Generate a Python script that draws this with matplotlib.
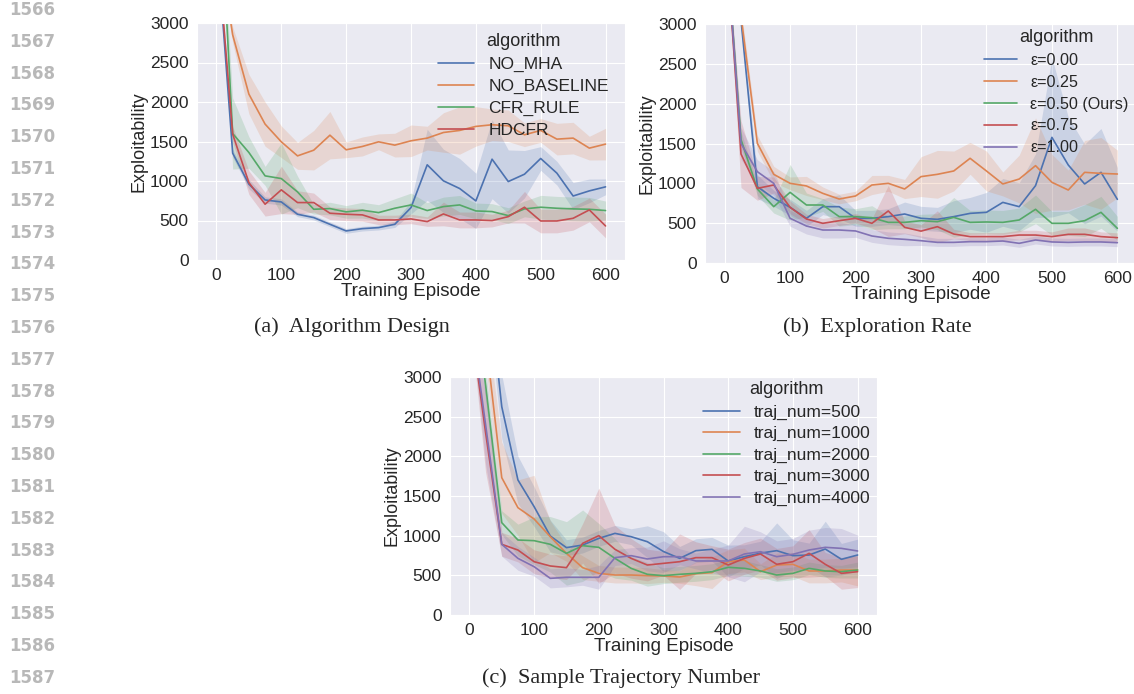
import matplotlib
matplotlib.use("Agg")
import matplotlib.pyplot as plt
import seaborn as sns

sns.set_style("darkgrid")
plt.rcParams["font.family"] = ["Liberation Sans", "DejaVu Sans"]

# training episodes (x values shared by all three panels)
episodes = list(range(0, 625, 25))

# (a) Algorithm Design: mean exploitability and half-width of the shaded band
no_mha = [4100, 1352, 960, 760, 735, 579, 537, 452, 368, 397, 410, 452, 663,
          1205, 1002, 905, 748, 1276, 993, 1086, 1285, 1099, 810, 875, 926]
no_mha_band = [0, 50, 60, 40, 40, 30, 30, 30, 30, 30, 30, 40, 80,
               450, 400, 380, 350, 500, 400, 300, 150, 150, 170, 150, 100]
no_baseline = [4200, 2850, 2100, 1720, 1496, 1318, 1390, 1580, 1395, 1437, 1496, 1454, 1509,
               1543, 1614, 1640, 1691, 1712, 1699, 1585, 1640, 1530, 1543, 1416, 1467]
no_baseline_band = [0, 100, 250, 280, 200, 170, 250, 300, 100, 120, 100, 150, 200,
                    150, 250, 300, 250, 200, 200, 150, 150, 200, 200, 150, 200]
cfr_rule = [5500, 1601, 1361, 1065, 1031, 862, 642, 651, 609, 630, 600, 655, 697,
            626, 676, 697, 621, 613, 562, 647, 668, 655, 647, 642, 626]
cfr_rule_band = [0, 450, 200, 120, 450, 200, 60, 80, 80, 100, 100, 120, 150,
                 100, 120, 120, 100, 100, 100, 100, 150, 150, 150, 150, 120]
hdcfr = [4100, 1593, 980, 706, 888, 727, 727, 592, 579, 571, 507, 507, 520,
         486, 583, 507, 507, 499, 549, 668, 494, 494, 528, 634, 431]
hdcfr_band = [0, 100, 150, 150, 300, 150, 120, 80, 80, 80, 60, 60, 60,
              60, 150, 100, 100, 80, 80, 200, 150, 150, 150, 150, 150]

# (b) Exploration Rate
eps_000 = [4500, 3050, 958, 812, 699, 561, 707, 707, 561, 561, 582, 615, 561,
           548, 582, 623, 636, 761, 707, 971, 1577, 1230, 992, 1138, 799]
eps_000_band = [0, 100, 150, 100, 100, 100, 100, 150, 100, 100, 100, 150, 150,
                150, 200, 200, 250, 300, 300, 400, 1000, 600, 500, 550, 400]
eps_025 = [4500, 3100, 1502, 1113, 1000, 967, 874, 803, 841, 979, 1000, 929, 1084,
           1113, 1155, 1314, 1155, 992, 1054, 1222, 1013, 916, 1138, 1125, 1117]
eps_025_band = [0, 100, 100, 100, 80, 120, 80, 60, 60, 120, 100, 120, 250,
                300, 250, 200, 250, 150, 300, 600, 350, 250, 400, 450, 300]
eps_050 = [4300, 1550, 929, 707, 887, 728, 728, 582, 582, 569, 510, 510, 531,
           519, 573, 510, 515, 510, 540, 674, 498, 498, 531, 636, 435]
eps_050_band = [0, 100, 80, 80, 350, 150, 80, 120, 100, 150, 80, 80, 80,
                100, 250, 150, 150, 150, 150, 180, 150, 150, 200, 200, 150]
eps_075 = [4300, 1368, 937, 979, 699, 552, 498, 531, 561, 498, 653, 448, 400,
           456, 364, 331, 331, 331, 351, 351, 331, 360, 360, 331, 318]
eps_075_band = [0, 420, 150, 100, 80, 60, 60, 60, 60, 60, 320, 80, 80,
                200, 60, 50, 50, 50, 60, 60, 60, 80, 80, 60, 60]
eps_100 = [4300, 1500, 1146, 1000, 561, 464, 414, 414, 402, 339, 310, 297, 280,
           259, 259, 268, 268, 276, 247, 289, 264, 259, 264, 264, 255]
eps_100_band = [0, 200, 150, 150, 100, 100, 100, 100, 80, 80, 80, 80, 60,
                50, 50, 50, 50, 50, 50, 50, 50, 50, 50, 50, 50]

# (c) Sample Trajectory Number
traj_500 = [6000, 4500, 2626, 1702, 1366, 996, 849, 882, 966, 1029, 987, 924, 800,
            714, 811, 828, 681, 735, 780, 811, 748, 756, 832, 702, 756]
traj_500_band = [0, 300, 400, 300, 250, 200, 100, 100, 100, 100, 100, 200, 250,
                 150, 150, 150, 200, 150, 150, 350, 200, 150, 350, 200, 200]
traj_1000 = [5000, 3493, 1731, 1353, 1210, 987, 777, 597, 525, 504, 504, 496, 492,
             479, 520, 534, 672, 693, 546, 630, 639, 555, 555, 567, 567]
traj_1000_band = [0, 300, 450, 350, 550, 200, 100, 150, 100, 100, 100, 100, 80,
                  80, 150, 200, 150, 150, 100, 150, 150, 150, 150, 150, 200]
traj_2000 = [4500, 2900, 1164, 945, 937, 891, 777, 874, 853, 714, 588, 513, 496,
             513, 525, 546, 601, 588, 555, 504, 525, 588, 555, 546, 567]
traj_2000_band = [0, 200, 150, 200, 300, 350, 400, 450, 300, 250, 150, 150, 100,
                  100, 100, 100, 100, 100, 80, 80, 80, 80, 80, 80, 100]
traj_3000 = [3800, 2300, 891, 819, 672, 618, 597, 903, 1000, 828, 714, 630, 651,
             672, 723, 723, 630, 714, 769, 639, 672, 777, 639, 525, 546]
traj_3000_band = [0, 500, 150, 150, 150, 150, 150, 250, 600, 300, 250, 200, 150,
                  350, 200, 150, 200, 200, 200, 200, 200, 300, 150, 200, 200]
traj_4000 = [3900, 2400, 891, 714, 609, 462, 475, 475, 475, 723, 748, 706, 735,
             735, 681, 681, 681, 769, 798, 735, 765, 819, 853, 840, 807]
traj_4000_band = [0, 500, 150, 150, 120, 120, 120, 100, 150, 100, 100, 150, 200,
                  100, 100, 150, 200, 350, 250, 200, 200, 250, 250, 250, 200]

labels_a = ["NO_MHA", "NO_BASELINE", "CFR_RULE", "HDCFR"]
labels_b = ["ε=0.00", "ε=0.25", "ε=0.50 (Ours)", "ε=0.75", "ε=1.00"]
labels_c = ["traj_num=500", "traj_num=1000", "traj_num=2000", "traj_num=3000", "traj_num=4000"]

colors = sns.color_palette("deep")

W, H = 1134, 694
fig = plt.figure(figsize=(W / 100, H / 100), dpi=100)


def px_axes(left, top, right, bottom):
    return fig.add_axes([left / W, 1 - bottom / H, (right - left) / W, (bottom - top) / H])


def draw(ax, series, labels, leg_xy, leg_size=12.5, leg_space=0.38):
    for i, (mean, band) in enumerate(series):
        lo = [m - b for m, b in zip(mean, band)]
        hi = [m + b for m, b in zip(mean, band)]
        ax.fill_between(episodes, lo, hi, color=colors[i], alpha=0.2, linewidth=0)
        ax.plot(episodes, mean, color=colors[i], lw=1.2, label=labels[i])
    ax.set_xlim(-30, 630)
    ax.set_ylim(0, 3000)
    ax.set_xticks(range(0, 601, 100))
    ax.set_yticks(range(0, 3001, 500))
    ax.tick_params(labelsize=12.5, pad=6, length=0)
    ax.set_xlabel("Training Episode", fontsize=13.5, labelpad=0)
    ax.set_ylabel("Exploitability", fontsize=13, labelpad=2)
    ax.legend(title="algorithm", loc="upper left", bbox_to_anchor=leg_xy,
              frameon=False, fontsize=leg_size, title_fontsize=13, borderaxespad=0,
              borderpad=0, labelspacing=leg_space, handlelength=2.1, handletextpad=0.8)


ax1 = px_axes(197, 23, 625, 260)
draw(ax1, [(no_mha, no_mha_band), (no_baseline, no_baseline_band),
           (cfr_rule, cfr_rule_band), (hdcfr, hdcfr_band)], labels_a, (0.563, 0.957))

ax2 = px_axes(705, 24, 1137, 263)
draw(ax2, [(eps_000, eps_000_band), (eps_025, eps_025_band), (eps_050, eps_050_band),
           (eps_075, eps_075_band), (eps_100, eps_100_band)], labels_b, (0.645, 0.98),
     leg_size=11.6, leg_space=0.43)

ax3 = px_axes(450, 377, 877, 615)
draw(ax3, [(traj_500, traj_500_band), (traj_1000, traj_1000_band), (traj_2000, traj_2000_band),
           (traj_3000, traj_3000_band), (traj_4000, traj_4000_band)], labels_c, (0.593, 0.982),
     leg_space=0.36)

# captions
cap = dict(family="Liberation Serif", fontsize=16, ha="center", va="center")
fig.text(352 / W, 1 - 327 / H, "(a)  Algorithm Design", **cap)
fig.text(877 / W, 1 - 327 / H, "(b)  Exploration Rate", **cap)
fig.text(621 / W, 1 - 678 / H, "(c)  Sample Trajectory Number", **cap)

# line numbers down the left margin
for k in range(22):
    fig.text(55 / W, 1 - (10 + k * 31.8) / H, str(1566 + k), ha="right", va="center",
             fontsize=12, fontweight="bold", color="#b8b8b8", family="DejaVu Sans")

fig.savefig("out.png", dpi=100)
